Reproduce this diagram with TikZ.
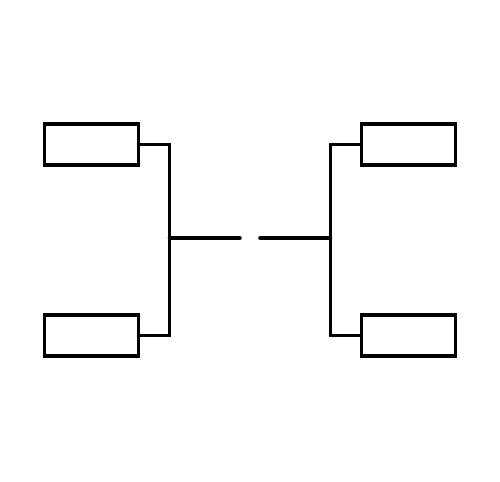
\documentclass[tikz,border=0pt]{standalone}
\usepackage{tikz}

\begin{document}
\begin{tikzpicture}[x=0.02cm,y=-0.02cm,
    slot/.style={draw,line width=2pt,inner sep=0pt,minimum width=1.88cm,minimum height=0.82cm},
    wire/.style={line width=2pt}]
    \useasboundingbox (0,0) rectangle (500,481);
    \node[slot] (lt) at (91.5,144.5) {};
    \node[slot] (lb) at (91.5,335.5) {};
    \node[slot] (rt) at (408.5,144.5) {};
    \node[slot] (rb) at (408.5,335.5) {};
    \coordinate (lj) at (169.5,238);
    \coordinate (rj) at (330.5,238);
    \coordinate (le) at (240,238);
    \coordinate (re) at (260,238);
    \draw[wire] (lt.east) -| (lj) |- (lb.east);
    \draw[wire] (rt.west) -| (rj) |- (rb.west);
    \draw[wire,line cap=round] (lj) -- (le);
    \draw[wire,line cap=round] (rj) -- (re);
\end{tikzpicture}
\end{document}
